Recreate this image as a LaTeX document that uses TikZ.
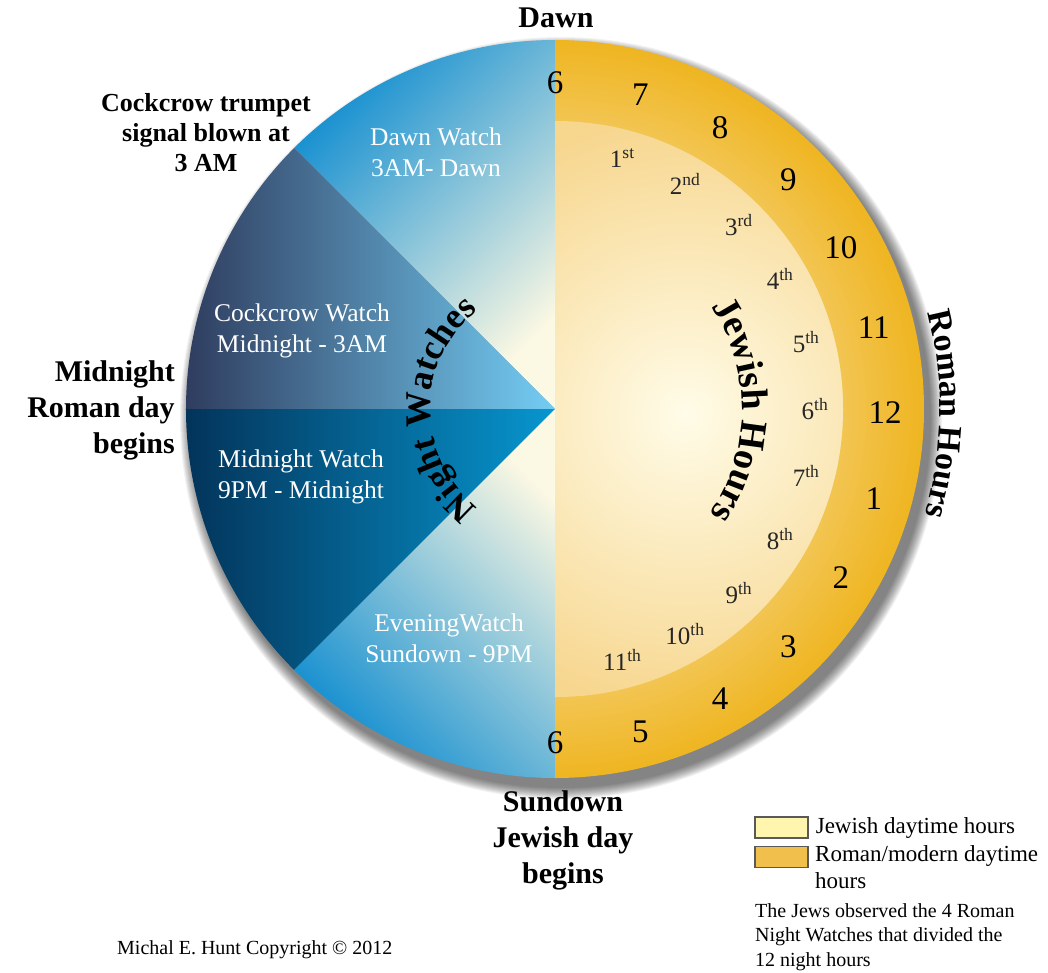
\documentclass[tikz,border=0pt]{standalone}
\usepackage{fontspec}
\setmainfont{Liberation Serif}
\usepackage{tikz}
\usetikzlibrary{positioning,decorations.text,calc}

\definecolor{dawnblue}{HTML}{138ED0}
\definecolor{palecream}{HTML}{FBF8E3}
\definecolor{crowdark}{HTML}{2F3D5F}
\definecolor{crowmid}{HTML}{4E7194}
\definecolor{crowlight}{HTML}{74CDF4}
\definecolor{middark}{HTML}{03345A}
\definecolor{midmid}{HTML}{055A88}
\definecolor{midlight}{HTML}{0796CF}
\definecolor{ringout}{HTML}{EFB521}
\definecolor{jewedge}{HTML}{F7D68E}
\definecolor{jewcream}{HTML}{FFFCE8}
\definecolor{legyellow}{HTML}{FFF5AE}
\definecolor{legorange}{HTML}{F1C04C}

\newcommand\nightfont{\fontsize{36}{40}\selectfont\bfseries}
\newcommand\jewfont{\fontsize{38}{42}\selectfont\bfseries}
\newcommand\romanfont{\fontsize{34}{38}\selectfont\bfseries}

\begin{document}
\begin{tikzpicture}[x=1pt, y=1pt,
    biglabel/.style={font=\fontsize{30}{36}\selectfont\bfseries, align=center, inner sep=0pt},
    sidelabel/.style={font=\fontsize{26}{30}\selectfont\bfseries, align=center, inner sep=0pt},
    watch/.style={font=\fontsize{25.5}{31}\selectfont, text=white, align=center, inner sep=0pt},
    roman/.style={font=\fontsize{33}{33}\selectfont, inner sep=0pt},
    jewish/.style={font=\fontsize{25}{25}\selectfont, text=black!85, inner sep=0pt},
    legbox/.style={draw=gray!70!black, line width=1.2pt, minimum width=53pt, minimum height=21pt, inner sep=0pt},
    legtxt/.style={font=\fontsize{23}{27}\selectfont, align=left, inner sep=0pt},
    note/.style={font=\fontsize{20}{24.5}\selectfont, align=left, inner sep=0pt},
    curved/.style={decorate, decoration={text along path, text align=center, text={#1}}}
  ]
  \def\R{369}
  \def\Rin{288}
  \useasboundingbox (-555,-563) rectangle (493,409);
  \fill[white] (-555,-563) rectangle (493,409);
  \coordinate (c) at (0,0);
  % drop shadow
  \foreach \k in {1,...,12}
    \fill[black, opacity=0.05] (6,-9) circle (\R+13-\k);
  % night watches (left half)
  \shade[top color=dawnblue, bottom color=palecream, shading angle=45] (c) -- (90:\R) arc (90:135:\R) -- cycle;
  \shade[left color=crowdark, middle color=crowmid, right color=crowlight] (c) -- (135:\R) arc (135:180:\R) -- cycle;
  \shade[left color=middark, middle color=midmid, right color=midlight] (c) -- (180:\R) arc (180:225:\R) -- cycle;
  \shade[top color=palecream, bottom color=dawnblue, shading angle=-45] (c) -- (225:\R) arc (225:270:\R) -- cycle;
  % day hours (right half)
  \begin{scope}
    \clip (0,-\R) rectangle (\R,\R);
    \shade[inner color=white, outer color=ringout] (c) circle (\R);
    \fill[jewedge] (c) circle (\Rin);
    \clip (c) circle (\Rin);
    \shade[inner color=jewcream, outer color=jewedge] (130,-5) circle (300);
  \end{scope}
  % watch labels
  \node[watch] (dawnw) at (-119,257) {Dawn Watch\\3AM- Dawn};
  \node[watch] (crow) at (-253,78) {Cockcrow Watch\\Midnight - 3AM};
  \node[watch] (midw) at (-254,-68) {Midnight Watch\\9PM - Midnight};
  \node[watch] (eve) at (-106,-229) {EveningWatch\\Sundown - 9PM};
  % curved titles
  \path[curved={|\nightfont|Night Watches}] (240:125) arc (240:120:125);
  \path[curved={|\jewfont|Jewish Hours}] (39.5:187) arc (39.5:-40.5:187);
  \path[curved={|\romanfont|Roman Hours}] (19.25:385) arc (19.25:-20.75:385);
  % roman hours
  \foreach \h [count=\i from 0] in {6,7,8,9,10,11,12,1,2,3,4,5,6}
    \node[roman] (r\i) at ($(0,-4)+({90-15*\i}:330)$) {\h};
  % jewish hours
  \foreach \n/\s in {1/st,2/nd,3/rd,4/th,5/th,6/th,7/th,8/th,9/th,10/th,11/th}
    \node[jewish] (j\n) at ({90-15*\n}:260) {\n\textsuperscript{\s}};
  % outside labels
  \node[biglabel] (dawn) at (1,391) {Dawn};
  \node[sidelabel] (trumpet) at (-349,276) {Cockcrow trumpet\\signal blown at\\3 AM};
  \node[biglabel, align=right, anchor=east] (midnight) at (-380,-1) {Midnight\\Roman day\hspace*{8pt}\\begins};
  \node[biglabel] (sundown) at (8,-431) {Sundown\\Jewish day\\begins};
  % legend
  \node[legbox, fill=legyellow] (jewbox) at (226.5,-418.5) {};
  \node[legbox, fill=legorange, below=7pt of jewbox] (rombox) {};
  \node[legtxt, right=7pt of jewbox] (jewtxt) {Jewish daytime hours};
  \node[legtxt, anchor=north west] (romtxt) at (260,-436) {Roman/modern daytime\\hours};
  \node[note, anchor=north west] (jewsnote) at (200,-494) {The Jews observed the 4 Roman\\Night Watches that divided the\\12 night hours};
  \node[note, anchor=west] (copy) at (-438,-541) {Michal E. Hunt Copyright © 2012};
\end{tikzpicture}
\end{document}
